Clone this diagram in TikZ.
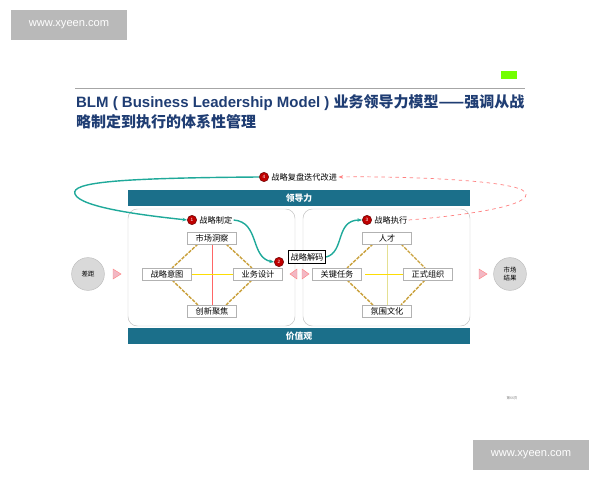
\documentclass[tikz,border=0pt]{standalone}
\usepackage{fontspec}
\setmainfont{Liberation Sans}
\newfontfamily\cjk{Noto Sans CJK SC}
\usetikzlibrary{arrows.meta}
\definecolor{barc}{HTML}{1B6F8A}
\definecolor{ttl}{HTML}{1F3D73}
\definecolor{tealc}{HTML}{1FA99A}
\definecolor{dashc}{HTML}{C9A03A}
\definecolor{pinkt}{HTML}{F2B8C4}
\begin{document}
\begin{tikzpicture}[x=0.03cm,y=-0.03cm,
  box/.style={draw=gray!60,fill=white,inner sep=2pt,font=\cjk\fontsize{7}{8}\selectfont,text width=38pt,align=center},
  bar/.style={text=white,font=\cjk\bfseries\fontsize{7.5}{8}\selectfont,anchor=center},
  num/.style={circle,fill=red!75!black,draw=red!40!black,text=white,inner sep=0pt,minimum size=8pt,font=\fontsize{4}{4}\selectfont},
  lab/.style={font=\cjk\fontsize{7}{8}\selectfont,anchor=west,inner sep=1pt},
  panel/.style={draw=gray!50,rounded corners=8pt},
  gray circ/.style={circle,fill=gray!30,draw=gray!50,minimum size=28pt,font=\cjk\fontsize{5.5}{6.5}\selectfont,align=center,inner sep=0pt},
  tri/.style={fill=pinkt,draw=pink!70!red},
  diag/.style={draw=dashc,line width=1.2pt,dash pattern=on 3pt off 1pt},
  tealarr/.style={tealc,line width=1.2pt,-{Stealth[length=4pt]}}]
\useasboundingbox (0,0) rectangle (600,480);
% watermarks
\node[fill=gray!55,text=white,minimum width=3.5cm,minimum height=0.9cm,font=\fontsize{9.5}{10}\selectfont] (wm1) at (69,25) {www.xyeen.com};
\node[fill=gray!55,text=white,minimum width=3.5cm,minimum height=0.9cm,font=\fontsize{9.5}{10}\selectfont] (wm2) at (531,455) {www.xyeen.com};
% logo and rule
\node[fill=green!55!yellow,minimum width=14pt,minimum height=7pt,inner sep=0pt] (logo) at (509,75) {};
\draw[gray!70] (75,88) -- (525,88);
\node[anchor=west,text=ttl,font=\bfseries\fontsize{12.8}{14}\selectfont] (t1) at (72,103) {BLM ( Business Leadership Model ) {\cjk 业务领导力模型——强调从战}};
\node[anchor=west,text=ttl,font=\cjk\bfseries\fontsize{12.8}{14}\selectfont] (t2) at (72,122) {略制定到执行的体系性管理};
% bars
\fill[barc] (128,190) rectangle (470,206);
\node[bar] (ld) at (299,198) {领导力};
\fill[barc] (128,328) rectangle (470,344);
\node[bar] (jz) at (299,336) {价值观};
% panels
\draw[panel] (128,209) rectangle (295,326);
\draw[panel] (303,209) rectangle (470,326);
% left cross
\draw[red!60,line width=0.8pt] (212,244) -- (212,305);
\draw[yellow!80!orange,line width=0.8pt] (190,274) -- (235,274);
\draw[diag] (198,244) -- (172,268);
\draw[diag] (226,244) -- (252,268);
\draw[diag] (172,280) -- (198,305);
\draw[diag] (252,280) -- (226,305);
% right cross
\draw[yellow!60!gray!60,line width=0.6pt] (387,244) -- (387,305);
\draw[yellow!80!orange,line width=0.8pt] (365,274) -- (410,274);
\draw[diag] (373,244) -- (347,268);
\draw[diag] (401,244) -- (425,268);
\draw[diag] (347,280) -- (373,305);
\draw[diag] (425,280) -- (401,305);
% nodes
\node[box] (sc) at (212,238) {市场洞察};
\node[box] (yt) at (167,274) {战略意图};
\node[box] (sj) at (258,274) {业务设计};
\node[box] (cx) at (212,311) {创新聚焦};
\node[box] (rc) at (387,238) {人才};
\node[box] (gj) at (337,274) {关键任务};
\node[box] (zz) at (428,274) {正式组织};
\node[box] (fw) at (387,311) {氛围文化};
\node[draw=black,line width=0.8pt,fill=white,font=\cjk\fontsize{7}{8}\selectfont,inner sep=2pt] (jm) at (307,257) {战略解码};
% circles
\node[gray circ] (cj) at (88,274) {差距};
\node[gray circ] (jg) at (510,274) {市场\\结果};
\fill[tri] (113,269) -- (121,274) -- (113,279) -- cycle;
\fill[tri] (297,269) -- (290,274) -- (297,279) -- cycle;
\fill[tri] (302,269) -- (309,274) -- (302,279) -- cycle;
\fill[tri] (479,269) -- (487,274) -- (479,279) -- cycle;
% numbers and labels
\node[num] (n1) at (192,220) {1};
\node[lab] (l1) at (198,220) {战略制定};
\node[num] (n2) at (279,262) {2};
\node[num] (n3) at (367,220) {3};
\node[lab] (l3) at (373,220) {战略执行};
\node[num] (n4) at (264,177) {4};
\node[lab] (l4) at (270,177) {战略复盘迭代改进};
% teal connectors
\draw[tealarr] (n4.west) .. controls (120,178) and (70,182) .. (75,194) .. controls (80,208) and (150,216) .. (n1.west);
\draw[tealarr] (l1.east) .. controls (260,222) and (250,258) .. (n2.west);
\draw[tealarr] (jm.east) .. controls (345,252) and (335,220) .. (n3.west);
% red dashed
\draw[red!50,dashed,line width=0.6pt,-{Stealth[length=4pt]}] (l3.east) .. controls (470,215) and (535,205) .. (525,192) .. controls (515,180) and (400,176) .. (l4.east);
\node[font=\cjk\fontsize{3}{3}\selectfont,text=gray] (pg) at (512,398) {第66页};
\end{tikzpicture}
\end{document}
